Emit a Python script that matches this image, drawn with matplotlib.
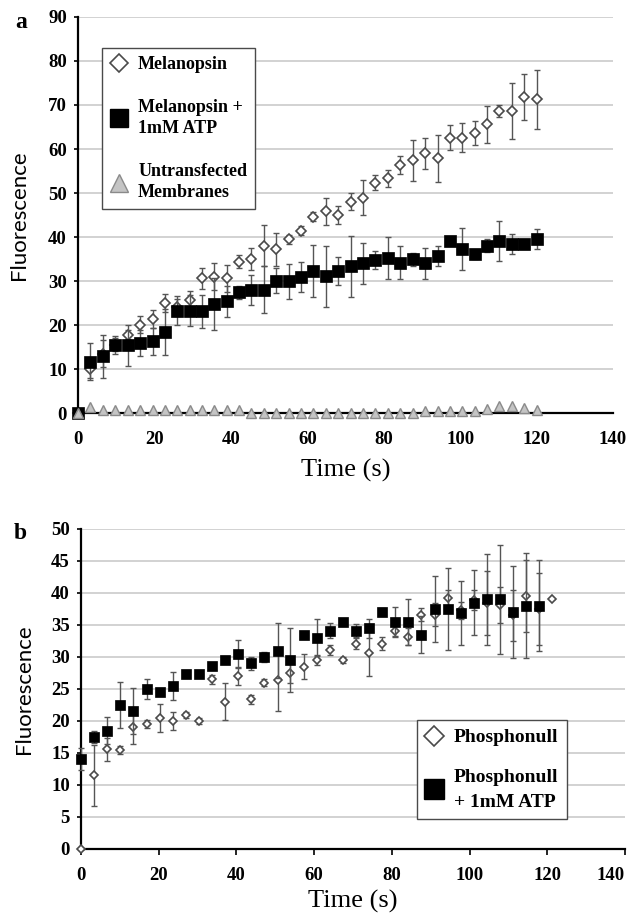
"""
Fluorescence vs time: melanopsin (a) and phosphonull (b), with and without ATP.
"""

import matplotlib
matplotlib.use("Agg")
import matplotlib.pyplot as plt
from matplotlib.lines import Line2D

# ---- panel a data ----
time_a = [0.0, 3.2, 6.5, 9.7, 13.0, 16.2, 19.5, 22.7, 25.9, 29.2, 32.4, 35.7,
          38.9, 42.2, 45.4, 48.6, 51.9, 55.1, 58.4, 61.6, 64.9, 68.1, 71.4,
          74.6, 77.8, 81.1, 84.3, 87.6, 90.8, 94.1, 97.3, 100.5, 103.8, 107.0,
          110.3, 113.5, 116.8, 120.0]
melanopsin = [0, 10.0, 13.5, 15.5, 17.8, 20.1, 21.4, 25.0, 24.0, 25.7, 30.6,
              31.0, 30.6, 34.4, 35.0, 38.0, 37.2, 39.5, 41.4, 44.6, 45.8, 45.0,
              48.0, 48.9, 52.3, 53.3, 56.4, 57.4, 59.0, 57.9, 62.6, 62.6, 63.6,
              65.6, 68.6, 68.6, 71.9, 71.3]
melanopsin_err = [0, 2.0, 3.0, 1.5, 1.0, 2.0, 2.0, 2.0, 2.0, 2.0, 2.3, 3.0,
                  3.0, 1.5, 2.5, 4.7, 3.8, 1.0, 1.0, 1.0, 3.0, 2.0, 1.9, 4.0,
                  1.7, 2.0, 2.0, 4.7, 3.6, 5.3, 2.8, 3.2, 2.7, 4.2, 1.4, 6.3,
                  5.2, 6.7]
melanopsin_atp = [0, 11.7, 12.9, 15.4, 15.4, 15.9, 16.3, 18.4, 23.3, 23.3,
                  23.1, 24.8, 25.4, 27.4, 28.0, 28.0, 30.1, 29.9, 30.9, 32.3,
                  31.1, 32.3, 33.3, 34.0, 34.8, 35.2, 34.2, 34.9, 34.0, 35.7,
                  39.1, 37.3, 36.1, 38.0, 39.1, 38.4, 38.4, 39.5]
melanopsin_atp_err = [0, 4.3, 4.9, 2.0, 4.7, 2.9, 3.0, 5.3, 3.2, 3.5, 3.8, 6.0,
                      3.5, 1.5, 3.4, 5.3, 2.8, 3.9, 3.5, 5.9, 6.9, 3.2, 7.0,
                      4.7, 2.0, 4.7, 3.7, 1.5, 3.6, 2.3, 1.0, 4.7, 1.0, 1.5,
                      4.5, 2.2, 1.0, 2.3]
untransfected = [0, 1.3, 0.7, 0.7, 0.7, 0.7, 0.7, 0.7, 0.7, 0.7, 0.7, 0.7,
                 0.7, 0.7, 0.1, 0.1, 0.1, 0.1, 0.1, 0.1, 0.1, 0.1, 0.1, 0.1,
                 0.1, 0.1, 0.1, 0.1, 0.4, 0.4, 0.4, 0.4, 0.4, 1.0, 1.5, 1.5,
                 1.1, 0.6]

# ---- panel b data ----
time_b = [0.0, 3.4, 6.7, 10.1, 13.5, 16.9, 20.2, 23.6, 27.0, 30.3, 33.7, 37.1,
          40.4, 43.8, 47.2, 50.6, 53.9, 57.3, 60.7, 64.0, 67.4, 70.8, 74.1,
          77.5, 80.9, 84.2, 87.6, 91.0, 94.4, 97.7, 101.1, 104.5, 107.8, 111.2,
          114.6, 117.9, 121.3]
phosphonull = [0, 11.5, 15.6, 15.5, 19.0, 19.5, 20.5, 20.0, 20.9, 20.0, 26.5,
               23.0, 27.0, 23.4, 26.0, 26.4, 27.5, 28.5, 29.5, 31.1, 29.5,
               32.1, 30.6, 32.1, 34.1, 33.2, 36.6, 36.6, 39.2, 37.3, 38.9,
               38.5, 38.1, 36.5, 39.5, 37.5, 39.0]
phosphonull_err = [0, 4.8, 1.8, 0.6, 2.6, 0.6, 2.2, 1.4, 0.5, 0.4, 0.7, 2.9,
                   1.3, 0.7, 0.5, 4.9, 1.5, 2.0, 0.8, 0.8, 0.5, 0.8, 3.6, 1.0,
                   0.8, 1.4, 1.0, 1.8, 1.3, 1.3, 1.5, 5.0, 2.8, 4.0, 5.6, 5.6,
                   0]
phosphonull_atp = [14.1, 17.5, 18.5, 22.5, 21.5, 25.0, 24.5, 25.5, 27.4, 27.4,
                   28.6, 29.5, 30.5, 29.0, 30.0, 31.0, 29.5, 33.4, 33.0, 34.1,
                   35.5, 34.1, 34.5, 37.1, 35.5, 35.5, 33.5, 37.5, 37.5, 36.9,
                   38.5, 39.0, 39.0, 37.0, 38.0, 38.0]
phosphonull_atp_err = [1.7, 1.0, 2.1, 3.6, 3.6, 1.5, 0.5, 2.2, 0.3, 0.3, 0.5,
                       0.5, 2.1, 1.0, 0.8, 4.3, 5.0, 0.5, 2.9, 1.2, 0.5, 1.0,
                       1.5, 0.5, 2.3, 3.6, 2.9, 5.1, 6.4, 5.0, 5.1, 7.1, 8.5,
                       7.2, 8.2, 7.1]

SERIF = "Liberation Serif"
SANS = "Lato"
GRID = "#cfcfcf"
EDGE = "#4a4a4a"
ERR = "#555555"


def style_axes(ax, ymax, ystep, xtick_len):
    ax.set_xlim(0, 140)
    ax.set_ylim(0, ymax)
    ax.set_xticks(range(0, 141, 20))
    ax.set_yticks(range(0, ymax + 1, ystep))
    for v in range(ystep, ymax + 1, ystep):
        ax.axhline(v, color=GRID, lw=1.3, zorder=0)
    for s in ("top", "right"):
        ax.spines[s].set_visible(False)
    for s in ("left", "bottom"):
        ax.spines[s].set_linewidth(1.6)
        ax.spines[s].set_zorder(1)
    ax.tick_params(axis="y", direction="out", length=3, width=1.2, pad=5)
    ax.tick_params(axis="x", direction="out", length=xtick_len, width=1.2,
                   pad=13 - xtick_len)
    for lab in ax.get_xticklabels() + ax.get_yticklabels():
        lab.set_fontfamily(SERIF)
        lab.set_fontweight("bold")
        lab.set_fontsize(13.5)


def series(ax, t, v, e, marker, ms, face, edge, mew, z):
    ax.errorbar(t, v, yerr=e, fmt="none", ecolor=ERR, elinewidth=1,
                capsize=2, capthick=1, zorder=z - 0.5, clip_on=False)
    ax.plot(t, v, linestyle="none", marker=marker, ms=ms, mfc=face,
            mec=edge, mew=mew, zorder=z, clip_on=False)


fig = plt.figure(figsize=(6.33, 9.13), dpi=100)

# ---- panel a ----
ax1 = fig.add_axes([0.1232, 0.5476, 0.8452, 0.4338])
style_axes(ax1, 90, 10, 0)
series(ax1, time_a, melanopsin, melanopsin_err, "D", 5.2, "white", EDGE, 1.2, 3)
series(ax1, time_a, melanopsin_atp, melanopsin_atp_err, "s", 8.6, "black",
       "black", 0.5, 4)
ax1.plot(time_a, untransfected, linestyle="none", marker="^", ms=7.5,
         mfc="#c4c4c4", mec="#8a8a8a", mew=1, zorder=5, clip_on=False)
ax1.set_xlabel("Time (s)", fontfamily=SERIF, fontsize=19, labelpad=8)
ax1.set_ylabel("Fluorescence", fontfamily=SANS, fontsize=16, labelpad=14)

handles_a = [
    Line2D([], [], ls="none", marker="D", ms=9.2, mfc="white", mec=EDGE, mew=1.2),
    Line2D([], [], ls="none", marker="s", ms=13, mfc="black", mec="black"),
    Line2D([], [], ls="none", marker="^", ms=13, mfc="#c4c4c4", mec="#8a8a8a"),
]
leg = ax1.legend(handles_a, ["Melanopsin", "Melanopsin +\n1mM ATP",
                             "Untransfected\nMembranes"],
                 loc="upper left", bbox_to_anchor=(0.0449, 0.9217),
                 borderaxespad=0, fancybox=False, framealpha=1,
                 edgecolor=EDGE, handlelength=1.0, handletextpad=0.55,
                 borderpad=0.45, labelspacing=1.45,
                 prop={"family": SERIF, "weight": "bold", "size": 13})
leg.get_frame().set_linewidth(1.0)
for txt in leg.get_texts():
    txt.set_linespacing(1.3)

# ---- panel b ----
ax2 = fig.add_axes([0.128, 0.0701, 0.8594, 0.3505])
style_axes(ax2, 50, 5, 4)
ax2.get_xticklabels()[-1].set_horizontalalignment("right")
series(ax2, time_b, phosphonull, phosphonull_err, "D", 4.0, "white", EDGE, 1.2, 3)
series(ax2, time_b[:len(phosphonull_atp)], phosphonull_atp, phosphonull_atp_err,
       "s", 7.2, "black", "black", 0.5, 4)
ax2.set_xlabel("Time (s)", fontfamily=SERIF, fontsize=19, labelpad=4)
ax2.set_ylabel("Fluorescence", fontfamily=SANS, fontsize=16, labelpad=12)

handles_b = [
    Line2D([], [], ls="none", marker="D", ms=10, mfc="white", mec=EDGE, mew=1.2),
    Line2D([], [], ls="none", marker="s", ms=14.4, mfc="black", mec="black"),
]
leg = ax2.legend(handles_b, ["Phosphonull", "Phosphonull\n+ 1mM ATP"],
                 loc="upper left", bbox_to_anchor=(0.617, 0.403),
                 borderaxespad=0, fancybox=False, framealpha=1,
                 edgecolor=EDGE, handlelength=0.9, handletextpad=0.57,
                 borderpad=0.45, labelspacing=1.15,
                 prop={"family": SERIF, "weight": "bold", "size": 14})
leg.get_frame().set_linewidth(1.0)
for txt in leg.get_texts():
    txt.set_linespacing(1.6)

# panel letters
fig.text(0.024, 0.969, "a", fontfamily=SERIF, fontweight="bold", fontsize=17)
fig.text(0.021, 0.410, "b", fontfamily=SERIF, fontweight="bold", fontsize=17)

fig.savefig("out.png", dpi=100)
